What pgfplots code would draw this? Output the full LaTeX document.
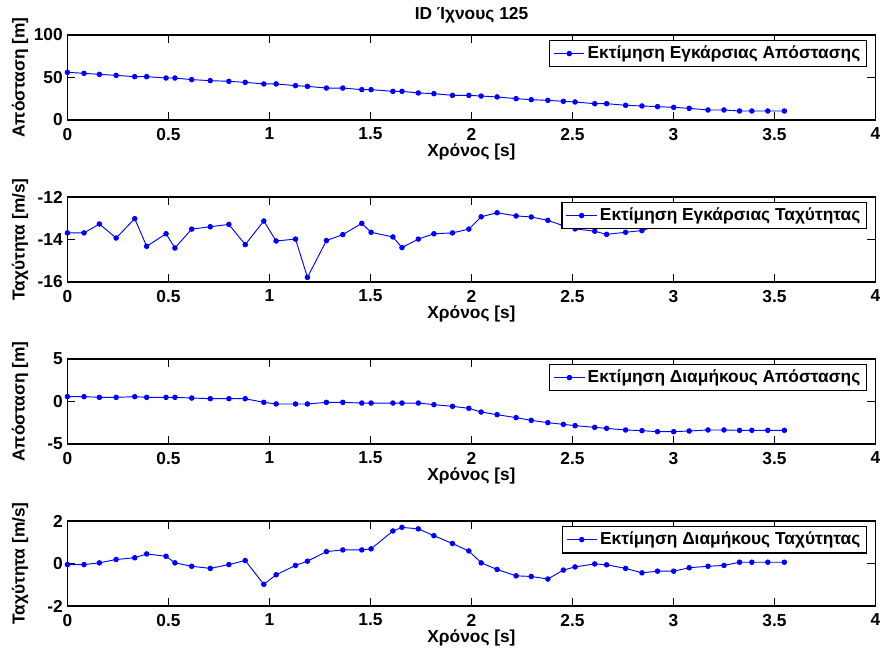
\documentclass[border=0pt]{standalone}
\usepackage{fontspec}
\setmainfont{Liberation Sans}
\usepackage{pgfplots}
\usepackage{pgfplotstable}
\pgfplotsset{compat=1.18}

\newcommand\lbl{\fontsize{13}{15.6}\selectfont\bfseries}

% t, lateral distance, lateral speed, longitudinal distance, longitudinal speed
\pgfplotstableread{
t      a     b       c      d
0.000  56.1  -13.69   0.57  -0.05
0.082  54.9  -13.69   0.57  -0.05
0.158  53.7  -13.27   0.49   0.03
0.241  52.5  -13.93   0.49   0.19
0.333  51.0  -13.02   0.57   0.27
0.392  51.0  -14.32   0.49   0.45
0.488  49.4  -13.73   0.49   0.34
0.532  49.4  -14.40   0.49   0.03
0.615  47.5  -13.51   0.41  -0.13
0.707  46.3  -13.40   0.33  -0.23
0.799  45.5  -13.29   0.33  -0.05
0.880  44.3  -14.24   0.33   0.14
0.972  42.4  -13.13  -0.10  -0.98
1.033  42.4  -14.07  -0.29  -0.53
1.129  40.4  -13.98  -0.29  -0.09
1.188  39.6  -15.78  -0.29   0.11
1.282  37.6  -14.05  -0.10   0.56
1.363  37.6  -13.77  -0.10   0.64
1.457  35.7  -13.24  -0.18   0.64
1.503  35.7  -13.66  -0.18   0.69
1.611  33.7  -13.88  -0.18   1.53
1.656  33.7  -14.38  -0.18   1.70
1.737  31.8  -13.98  -0.18   1.63
1.814  31.0  -13.73  -0.37   1.31
1.906  29.0  -13.69  -0.57   0.94
1.987  29.0  -13.51  -0.80   0.59
2.048  28.2  -12.93  -1.24   0.03
2.127  27.1  -12.74  -1.55  -0.28
2.221  25.1  -12.89  -1.90  -0.58
2.296  23.9  -12.94  -2.22  -0.61
2.378  23.1  -13.10  -2.49  -0.73
2.455  22.0  -13.35  -2.69  -0.31
2.513  21.2  -13.50  -2.84  -0.16
2.610  19.2  -13.61  -3.04  -0.02
2.669  19.2  -13.76  -3.16  -0.06
2.763  17.3  -13.66  -3.35  -0.23
2.844  16.5  -13.58  -3.43  -0.44
2.921  15.7  -13.35  -3.55  -0.36
3.001  14.9  -13.20  -3.55  -0.36
3.078  13.7  -13.15  -3.47  -0.20
3.171  11.8  -13.10  -3.35  -0.13
3.250  11.8  -13.15  -3.35  -0.09
3.327  10.6  -13.00  -3.39   0.06
3.388  10.6  -12.95  -3.39   0.06
3.467  10.6  -13.00  -3.39   0.06
3.549  10.6  -12.95  -3.39   0.06
}\tracktable

\pgfplotsset{
  trackaxis/.style={
    width=606pt, height=63.75pt, scale only axis,
    xmin=0, xmax=4, xtick={0,0.5,...,4},
    tick align=inside, major tick length=6pt,
    axis line style={line width=0.8pt},
    tick style={black, line width=0.8pt},
    /pgf/number format/assume math mode=true,
    every tick label/.append style={font=\lbl},
    xticklabel style={yshift=-2.5pt},
    xlabel={Χρόνος [s]},
    xlabel style={at={(axis description cs:0.5,-0.37)}, anchor=center, font=\lbl},
    ylabel style={at={(axis description cs:-0.0587,0.5)}, anchor=center, font=\lbl},
    legend style={at={(rel axis cs:1,1)}, anchor=north east, xshift=-6pt, yshift=-3.5pt,
      draw=black, line width=0.8pt, fill=white, font=\lbl, inner ysep=2.5pt},
    legend image code/.code={
      \draw[mark repeat=2, mark phase=2, #1] plot coordinates {(0cm,0cm) (0.4cm,0cm) (0.8cm,0cm)};},
  },
  track/.style={blue, line width=0.7pt, mark=*, mark size=1.7pt, mark options={solid, fill=blue}},
}

\begin{document}
\begin{tikzpicture}[font=\lbl]
\begin{axis}[trackaxis, at={(0pt,0pt)}, anchor=north west,
  ymin=0, ymax=100, ytick={0,50,100}, ylabel={Απόσταση [m]},
  title={ID Ίχνους 125}, every axis title shift=0pt,
  title style={at={(axis description cs:0.5,1.235)}, anchor=center, font=\lbl}]
\addplot[track] table[x=t, y=a] {\tracktable};
\addlegendentry{Εκτίμηση Εγκάρσιας Απόστασης}
\end{axis}

\begin{axis}[trackaxis, at={(0pt,-121.5pt)}, anchor=north west,
  ymin=-16, ymax=-12, ytick={-16,-14,-12}, ylabel={Ταχύτητα [m/s]}]
\addplot[track] table[x=t, y=b] {\tracktable};
\addlegendentry{Εκτίμηση Εγκάρσιας Ταχύτητας}
\end{axis}

\begin{axis}[trackaxis, at={(0pt,-243pt)}, anchor=north west,
  ymin=-5, ymax=5, ytick={-5,0,5}, ylabel={Απόσταση [m]}]
\addplot[track] table[x=t, y=c] {\tracktable};
\addlegendentry{Εκτίμηση Διαμήκους Απόστασης}
\end{axis}

\begin{axis}[trackaxis, at={(0pt,-364.5pt)}, anchor=north west,
  ymin=-2, ymax=2, ytick={-2,0,2}, ylabel={Ταχύτητα [m/s]}]
\addplot[track] table[x=t, y=d] {\tracktable};
\addlegendentry{Εκτίμηση Διαμήκους Ταχύτητας}
\end{axis}

\pgfresetboundingbox
\useasboundingbox (-50.6pt,26.25pt) rectangle (609.4pt,-462.75pt);
\end{tikzpicture}
\end{document}
